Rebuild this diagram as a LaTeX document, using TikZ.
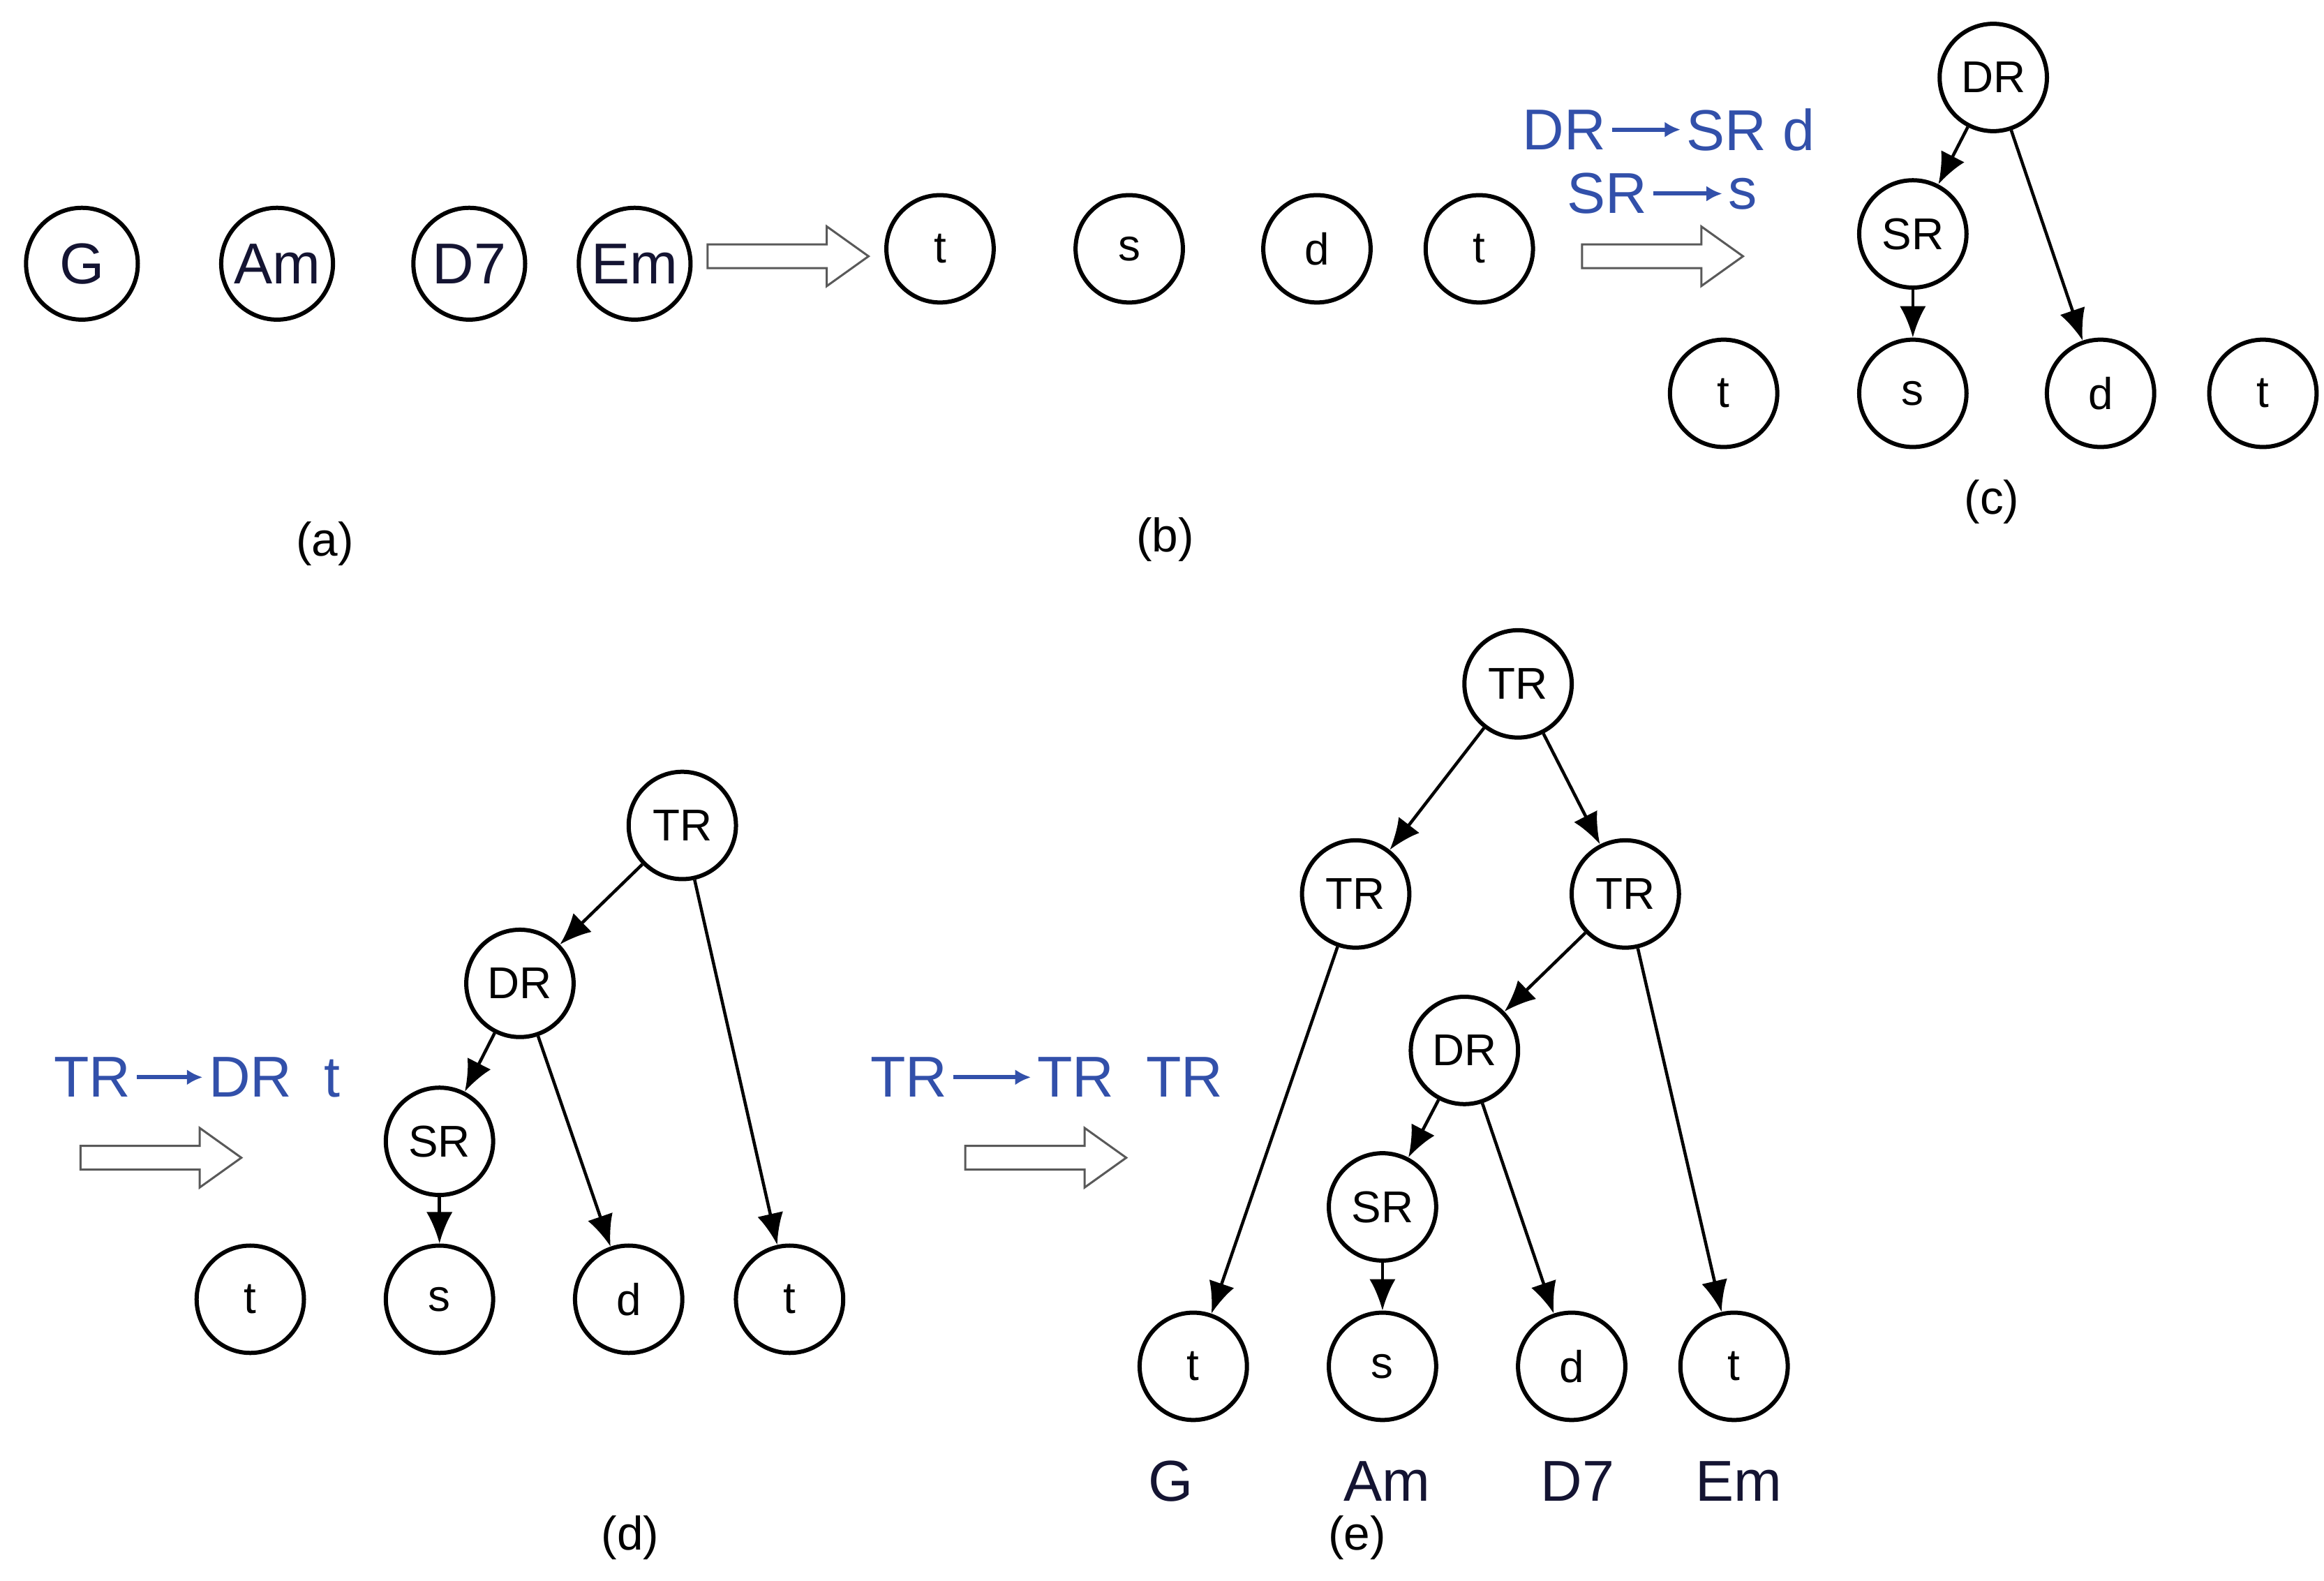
\documentclass[tikz,border=0pt]{standalone}
\usepackage{fontspec}
\setmainfont{Liberation Sans}
\usetikzlibrary{arrows.meta}
\definecolor{rb}{RGB}{50,80,170}
\definecolor{dk}{RGB}{20,20,50}
\begin{document}
\begin{tikzpicture}[x=0.01cm,y=-0.01cm,
  c/.style={circle,draw,thick,minimum size=0.72cm,inner sep=0pt,font=\fontsize{8.5}{9}\selectfont},
  cb/.style={c,minimum size=0.75cm,font=\fontsize{11}{12}\selectfont,text=dk},
  e/.style={-{Latex[length=6pt,width=5pt]},semithick},
  bl/.style={text=rb,font=\fontsize{11}{12}\selectfont,inner sep=1pt},
  ba/.style={-{Latex[length=3pt,width=3pt]},rb,thick},
  lab/.style={font=\fontsize{9}{10}\selectfont},
  big/.style={text=dk,font=\fontsize{11}{12}\selectfont}]
\useasboundingbox (0,0) rectangle (1560,1061);
\newcommand{\harrow}[2]{\draw[gray!70!black] (#1,#2-8) -- (#1+80,#2-8) -- (#1+80,#2-20) -- (#1+108,#2) -- (#1+80,#2+20) -- (#1+80,#2+8) -- (#1,#2+8) -- cycle;}
% (a)
\node[cb] (aG) at (55,177) {G};
\node[cb] (aAm) at (186,177) {Am};
\node[cb] (aD) at (315,177) {D7};
\node[cb] (aEm) at (426,177) {Em};
\node[lab] (la) at (218,365) {(a)};
\harrow{475}{172}
% (b)
\node[c] (b1) at (631,167) {t};
\node[c] (b2) at (758,167) {s};
\node[c] (b3) at (884,167) {d};
\node[c] (b4) at (993,167) {t};
\node[lab] (lb) at (782,362) {(b)};
\node[bl,anchor=east] (r1a) at (1082,87) {DR};
\node[bl,anchor=west] (r1b) at (1128,87) {SR d};
\draw[ba] (r1a) -- (r1b);
\node[bl,anchor=east] (r2a) at (1110,130) {SR};
\node[bl,anchor=west] (r2b) at (1156,130) {s};
\draw[ba] (r2a) -- (r2b);
\harrow{1062}{172}
% (c)
\node[c] (cDR) at (1338,52) {DR};
\node[c] (cSR) at (1284,157) {SR};
\node[c] (c1) at (1157,264) {t};
\node[c] (c2) at (1284,264) {s};
\node[c] (c3) at (1410,264) {d};
\node[c] (c4) at (1519,264) {t};
\draw[e] (cDR) -- (cSR);
\draw[e] (cDR) -- (c3);
\draw[e] (cSR) -- (c2);
\node[lab] (lc) at (1337,337) {(c)};
% (d)
\node[bl,anchor=east] (r3a) at (92,723) {TR};
\node[bl,anchor=west] (r3b) at (136,723) {DR\ \ t};
\draw[ba] (r3a) -- (r3b);
\harrow{54}{777}
\node[c] (dTR) at (458,554) {TR};
\node[c] (dDR) at (349,660) {DR};
\node[c] (dSR) at (295,766) {SR};
\node[c] (d1) at (168,872) {t};
\node[c] (d2) at (295,872) {s};
\node[c] (d3) at (422,872) {d};
\node[c] (d4) at (530,872) {t};
\draw[e] (dTR) -- (dDR);
\draw[e] (dTR) -- (d4);
\draw[e] (dDR) -- (dSR);
\draw[e] (dDR) -- (d3);
\draw[e] (dSR) -- (d2);
\node[lab] (ld) at (423,1032) {(d)};
% (e)
\node[bl,anchor=east] (r4a) at (640,723) {TR};
\node[bl,anchor=west] (r4b) at (692,723) {TR\ \ TR};
\draw[ba] (r4a) -- (r4b);
\harrow{648}{777}
\node[c] (eTR) at (1019,459) {TR};
\node[c] (eTL) at (910,600) {TR};
\node[c] (eTRr) at (1091,600) {TR};
\node[c] (eDR) at (983,705) {DR};
\node[c] (eSR) at (928,810) {SR};
\node[c] (e1) at (801,917) {t};
\node[c] (e2) at (928,917) {s};
\node[c] (e3) at (1055,917) {d};
\node[c] (e4) at (1164,917) {t};
\draw[e] (eTR) -- (eTL);
\draw[e] (eTR) -- (eTRr);
\draw[e] (eTL) -- (e1);
\draw[e] (eTRr) -- (eDR);
\draw[e] (eTRr) -- (e4);
\draw[e] (eDR) -- (eSR);
\draw[e] (eDR) -- (e3);
\draw[e] (eSR) -- (e2);
\node[big] (g1) at (786,994) {G};
\node[big] (g2) at (931,994) {Am};
\node[big] (g3) at (1059,994) {D7};
\node[big] (g4) at (1167,994) {Em};
\node[lab] (le) at (911,1032) {(e)};
\end{tikzpicture}
\end{document}
